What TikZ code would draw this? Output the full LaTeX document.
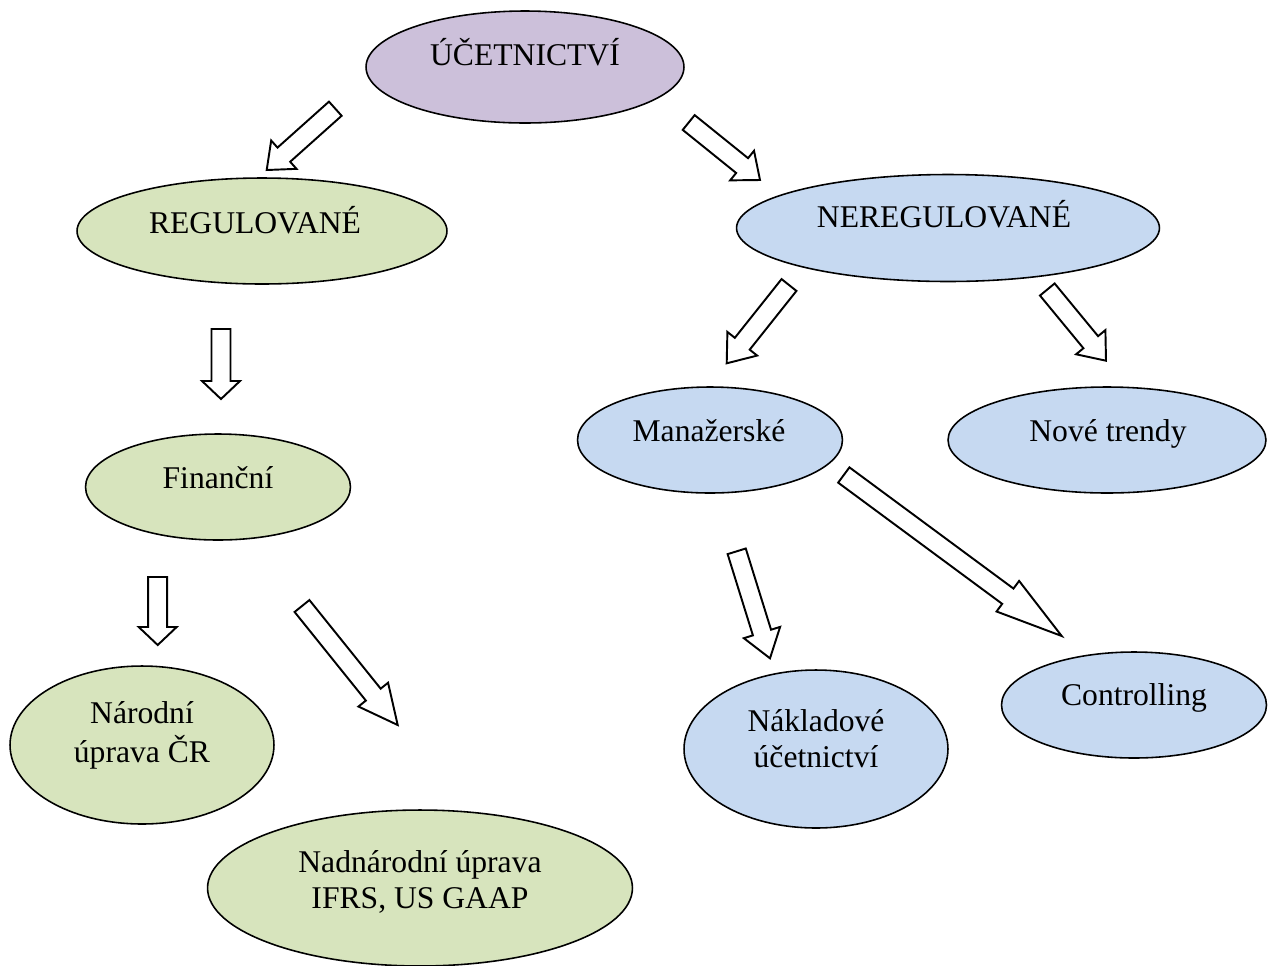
\documentclass[tikz,border=0pt]{standalone}
\usepackage{fontspec}
\setmainfont{Liberation Serif}
\usetikzlibrary{shapes.geometric,calc}

\definecolor{acctpurple}{HTML}{CCC0DA}
\definecolor{reggreen}{HTML}{D7E4BD}
\definecolor{unregblue}{HTML}{C6D9F1}

\tikzset{
  blob/.style={ellipse, draw=black, line width=0.9pt, inner sep=0pt},
  lbl/.style={font=\fontsize{18}{20.4}\selectfont, align=center, inner sep=0pt},
  hollow/.style={draw=black, fill=white, line width=1.1pt, line join=miter},
}

% hollow block arrow: #1 tail centre, #2 tip, #3 head length
\newcommand\hollowarrow[3]{%
  \coordinate (ha-base) at ($(#2)!#3!(#1)$);
  \draw[hollow]
    ($(#1)!0.19cm!90:(#2)$) -- ($(ha-base)!0.19cm!90:(#2)$)
    -- ($(ha-base)!0.38cm!90:(#2)$) -- (#2)
    -- ($(ha-base)!0.38cm!-90:(#2)$) -- ($(ha-base)!0.19cm!-90:(#2)$)
    -- ($(#1)!0.19cm!-90:(#2)$) -- cycle;
}

\begin{document}
\begin{tikzpicture}[x=0.02cm, y=-0.02cm]
\useasboundingbox (0,0) rectangle (1275,965);

% ellipses
\node[blob, fill=acctpurple, minimum width=6.36cm, minimum height=2.24cm] (ucet) at (525,67) {};
\node[blob, fill=reggreen, minimum width=7.4cm, minimum height=2.12cm] (reg) at (262,231) {};
\node[blob, fill=unregblue, minimum width=8.46cm, minimum height=2.14cm] (nereg) at (948,228) {};
\node[blob, fill=unregblue, minimum width=5.3cm, minimum height=2.12cm] (man) at (710,440) {};
\node[blob, fill=unregblue, minimum width=6.36cm, minimum height=2.12cm] (nove) at (1107,440) {};
\node[blob, fill=reggreen, minimum width=5.3cm, minimum height=2.12cm] (fin) at (218,487) {};
\node[blob, fill=reggreen, minimum width=5.28cm, minimum height=3.16cm] (nar) at (142,745) {};
\node[blob, fill=reggreen, minimum width=8.5cm, minimum height=3.12cm] (nadnar) at (420,888) {};
\node[blob, fill=unregblue, minimum width=5.28cm, minimum height=3.16cm] (nakl) at (816,749) {};
\node[blob, fill=unregblue, minimum width=5.3cm, minimum height=2.12cm] (contr) at (1134,705) {};

% labels
\node[lbl] (ucet-t) at (525,56.8) {\strut ÚČETNICTVÍ};
\node[lbl] (reg-t) at (255,224.8) {\strut REGULOVANÉ};
\node[lbl] (nereg-t) at (944,219) {\strut NEREGULOVANÉ};
\node[lbl] (man-t) at (709,434) {\strut Manažerské};
\node[lbl] (nove-t) at (1108,434) {\strut Nové trendy};
\node[lbl] (fin-t) at (218,481) {\strut Finanční};
\node[lbl] (contr-t) at (1134,698) {\strut Controlling};
\node[lbl] (nar-t) at (142,735.8) {\strut Národní\\\strut úprava ČR};
\node[lbl] (nadnar-t) at (420,883) {\strut Nadnárodní úprava\\\strut IFRS, US GAAP};
\node[lbl] (nakl-t) at (816,742) {\strut Nákladové\\\strut účetnictví};

% arrow end points
\coordinate (a1-tail) at (335.3,108.7);  \coordinate (a1-tip) at (266.7,170);
\coordinate (a2-tail) at (688.7,122.5);  \coordinate (a2-tip) at (760,180);
\coordinate (a3-tail) at (221,329);      \coordinate (a3-tip) at (221,399);
\coordinate (a4-tail) at (157.7,577);    \coordinate (a4-tip) at (157.7,645);
\coordinate (a5-tail) at (302,606);      \coordinate (a5-tip) at (397.7,725);
\coordinate (a6-tail) at (789,285);      \coordinate (a6-tip) at (726.7,363.3);
\coordinate (a7-tail) at (1047.3,289.5); \coordinate (a7-tip) at (1106,360.7);
\coordinate (a8-tail) at (736.7,551.3);  \coordinate (a8-tip) at (770,658.3);
\coordinate (a9-tail) at (843.8,475);    \coordinate (a9-tip) at (1061.7,636);

\hollowarrow{a1-tail}{a1-tip}{0.46cm}
\hollowarrow{a2-tail}{a2-tip}{0.46cm}
\hollowarrow{a3-tail}{a3-tip}{0.36cm}
\hollowarrow{a4-tail}{a4-tip}{0.36cm}
\hollowarrow{a5-tail}{a5-tip}{0.78cm}
\hollowarrow{a6-tail}{a6-tip}{0.5cm}
\hollowarrow{a7-tail}{a7-tip}{0.48cm}
\hollowarrow{a8-tail}{a8-tip}{0.54cm}
\hollowarrow{a9-tail}{a9-tip}{1.34cm}
\end{tikzpicture}
\end{document}
